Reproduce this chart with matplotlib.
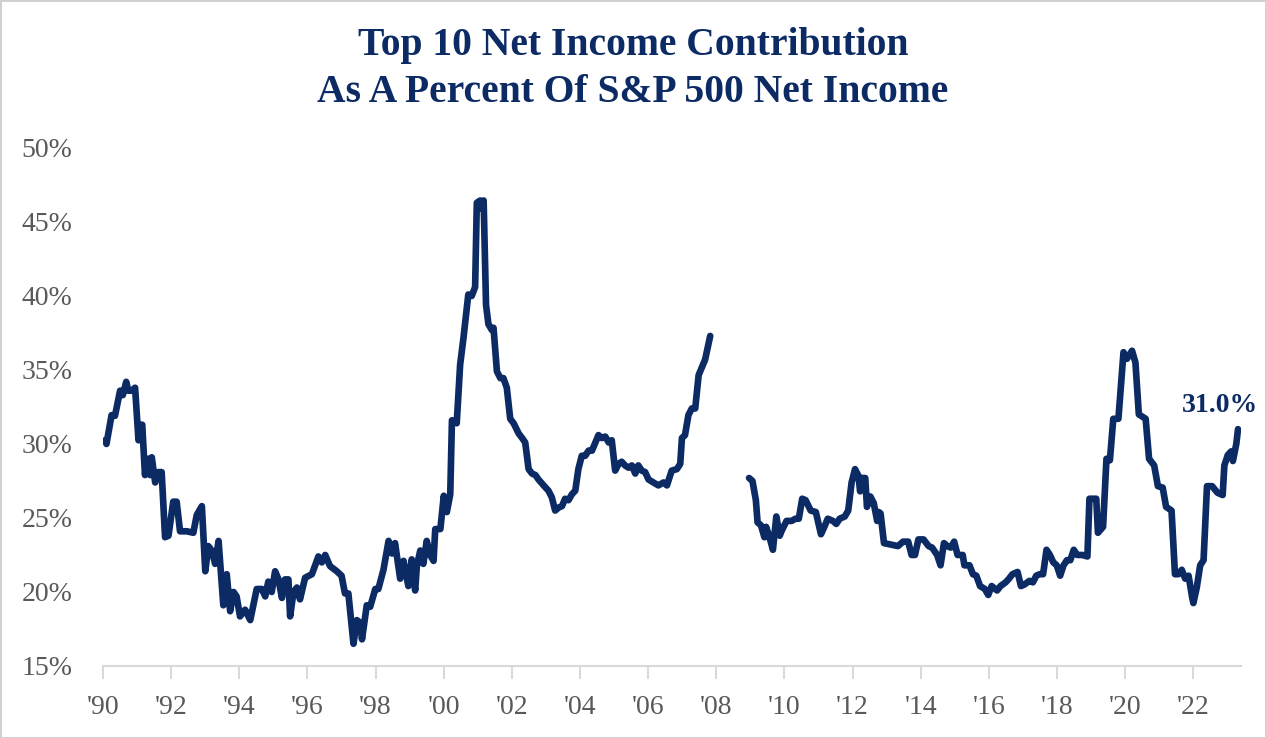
import numpy as np
import matplotlib
matplotlib.use("Agg")
import matplotlib.pyplot as plt

# Data, two segments with a gap around 2008
years_a = [1990.06, 1990.10, 1990.25, 1990.35, 1990.50, 1990.58, 1990.68, 1990.74, 1990.84, 1990.94,
           1991.04, 1991.09, 1991.15, 1991.23, 1991.33, 1991.38, 1991.43, 1991.53, 1991.62, 1991.72,
           1991.82, 1991.92, 1992.06, 1992.16, 1992.26, 1992.46, 1992.65, 1992.75, 1992.90, 1993.00,
           1993.09, 1993.19, 1993.29, 1993.39, 1993.53, 1993.63, 1993.73, 1993.83, 1993.92, 1994.02,
           1994.17, 1994.32, 1994.51, 1994.66, 1994.76, 1994.85, 1994.95, 1995.05, 1995.15, 1995.25,
           1995.34, 1995.44, 1995.49, 1995.59, 1995.69, 1995.78, 1995.93, 1996.13, 1996.32, 1996.42,
           1996.52, 1996.66, 1996.86, 1997.00, 1997.10, 1997.20, 1997.35, 1997.45, 1997.55, 1997.60,
           1997.74, 1997.84, 1997.99, 1998.08, 1998.23, 1998.38, 1998.48, 1998.57, 1998.72, 1998.82,
           1998.96, 1999.06, 1999.16, 1999.21, 1999.31, 1999.40, 1999.50, 1999.60, 1999.70, 1999.75,
           1999.90, 2000.00, 2000.09, 2000.19, 2000.24, 2000.38, 2000.48, 2000.58, 2000.72, 2000.82,
           2000.92, 2000.97, 2001.07, 2001.12, 2001.17, 2001.24, 2001.31, 2001.41, 2001.46, 2001.56,
           2001.66, 2001.75, 2001.85, 2001.95, 2002.05, 2002.20, 2002.30, 2002.39, 2002.49, 2002.59,
           2002.69, 2002.78, 2002.93, 2003.07, 2003.17, 2003.27, 2003.37, 2003.47, 2003.56, 2003.66,
           2003.76, 2003.86, 2003.95, 2004.05, 2004.15, 2004.25, 2004.35, 2004.45, 2004.54, 2004.64,
           2004.74, 2004.84, 2004.93, 2005.03, 2005.13, 2005.22, 2005.32, 2005.42, 2005.52, 2005.62,
           2005.71, 2005.81, 2005.91, 2006.01, 2006.15, 2006.30, 2006.45, 2006.55, 2006.69, 2006.84,
           2006.94, 2006.99, 2007.08, 2007.18, 2007.28, 2007.38, 2007.48, 2007.58, 2007.67, 2007.82]
values_a = [30.25, 30.0, 31.95, 31.9, 33.6, 33.3, 34.2, 33.6, 33.6, 33.8,
            30.25, 31.3, 31.3, 27.9, 29.0, 27.9, 29.1, 27.4, 28.1, 28.1,
            23.7, 23.8, 26.1, 26.1, 24.1, 24.1, 24.0, 25.2, 25.8, 21.4,
            23.1, 22.8, 21.9, 23.45, 19.1, 21.2, 18.7, 20.0, 19.7, 18.35,
            18.8, 18.1, 20.2, 20.2, 19.7, 20.7, 20.0, 21.4, 20.85, 19.6,
            20.85, 20.85, 18.35, 20.0, 20.3, 19.5, 20.96, 21.2, 22.4, 22.0,
            22.5, 21.75, 21.4, 21.1, 19.9, 19.9, 16.5, 18.1, 17.9, 16.8,
            19.1, 19.0, 20.2, 20.2, 21.5, 23.45, 22.6, 23.3, 20.9, 22.1,
            20.4, 22.2, 20.1, 21.75, 22.8, 21.9, 23.45, 22.5, 22.1, 24.25,
            24.25, 26.5, 25.4, 26.6, 31.6, 31.4, 35.35, 37.2, 40.1, 40.0,
            40.6, 46.3, 46.45, 45.9, 46.45, 39.4, 38.1, 37.7, 37.85, 34.9,
            34.45, 34.45, 33.8, 31.7, 31.4, 30.7, 30.4, 30.1, 28.3, 28.0,
            27.9, 27.6, 27.2, 26.85, 26.4, 25.5, 25.7, 25.8, 26.3, 26.2,
            26.6, 26.85, 28.3, 29.2, 29.2, 29.55, 29.55, 30.1, 30.6, 30.4,
            30.5, 30.1, 30.25, 28.2, 28.65, 28.8, 28.55, 28.4, 28.55, 28.0,
            28.55, 28.2, 28.1, 27.6, 27.4, 27.2, 27.4, 27.2, 28.2, 28.3,
            28.65, 30.4, 30.6, 31.95, 32.4, 32.4, 34.65, 35.2, 35.7, 37.3]

years_b = [2008.96, 2009.06, 2009.16, 2009.21, 2009.31, 2009.41, 2009.46, 2009.56, 2009.66, 2009.76,
           2009.86, 2009.91, 2010.06, 2010.21, 2010.32, 2010.42, 2010.52, 2010.62, 2010.77, 2010.92,
           2011.07, 2011.17, 2011.27, 2011.42, 2011.52, 2011.62, 2011.77, 2011.87, 2011.97, 2012.07,
           2012.17, 2012.22, 2012.27, 2012.37, 2012.42, 2012.52, 2012.62, 2012.72, 2012.77, 2012.82,
           2012.92, 2013.12, 2013.33, 2013.48, 2013.63, 2013.73, 2013.83, 2013.93, 2014.08, 2014.23,
           2014.33, 2014.48, 2014.58, 2014.68, 2014.78, 2014.88, 2014.98, 2015.08, 2015.23, 2015.28,
           2015.43, 2015.53, 2015.63, 2015.74, 2015.88, 2015.98, 2016.08, 2016.24, 2016.34, 2016.49,
           2016.59, 2016.69, 2016.84, 2016.94, 2017.04, 2017.19, 2017.29, 2017.39, 2017.49, 2017.59,
           2017.69, 2017.79, 2017.89, 2017.99, 2018.09, 2018.19, 2018.29, 2018.39, 2018.49, 2018.59,
           2018.74, 2018.89, 2018.95, 2019.15, 2019.20, 2019.35, 2019.45, 2019.55, 2019.65, 2019.80,
           2019.95, 2020.05, 2020.20, 2020.30, 2020.40, 2020.60, 2020.70, 2020.85, 2020.96, 2021.10,
           2021.20, 2021.36, 2021.46, 2021.56, 2021.66, 2021.76, 2021.86, 2021.96, 2022.00, 2022.10,
           2022.20, 2022.30, 2022.40, 2022.55, 2022.71, 2022.86, 2022.91, 2023.01, 2023.11, 2023.16,
           2023.26, 2023.31]
values_b = [27.7, 27.5, 26.2, 24.7, 24.5, 23.7, 24.4, 23.7, 22.85, 25.1,
            23.8, 24.1, 24.8, 24.8, 24.95, 24.95, 26.3, 26.2, 25.5, 25.4,
            23.9, 24.4, 24.95, 24.8, 24.6, 24.95, 25.1, 25.5, 27.4, 28.3,
            27.85, 26.8, 27.7, 27.7, 25.75, 26.45, 26.0, 24.8, 25.4, 25.3,
            23.3, 23.2, 23.1, 23.4, 23.4, 22.5, 22.5, 23.55, 23.55, 23.1,
            23.0, 22.5, 21.8, 23.3, 23.1, 23.0, 23.4, 22.5, 22.5, 21.8,
            21.8, 21.2, 21.1, 20.4, 20.2, 19.8, 20.4, 20.1, 20.4, 20.65,
            20.9, 21.2, 21.35, 20.4, 20.5, 20.75, 20.65, 21.1, 21.2, 21.2,
            22.85, 22.5, 22.0, 21.8, 21.1, 21.8, 22.15, 22.15, 22.85, 22.5,
            22.5, 22.4, 26.3, 26.3, 24.0, 24.4, 29.0, 28.9, 31.7, 31.7,
            36.2, 35.75, 36.3, 35.5, 32.0, 31.7, 29.0, 28.55, 27.15, 27.05,
            25.75, 25.5, 21.2, 21.2, 21.5, 20.9, 21.1, 19.7, 19.25, 20.3,
            21.8, 22.15, 27.15, 27.15, 26.7, 26.55, 28.55, 29.25, 29.5, 28.85,
            30.0, 31.0]

tick_years = list(range(1990, 2023, 2))
tick_labels = ["'" + str(y)[2:] for y in tick_years]
y_ticks = [15, 20, 25, 30, 35, 40, 45, 50]
last_label = "31.0%"

NAVY = "#0c2a63"
GRAY_TXT = "#595959"
AXIS_GRAY = "#d9d9d9"

fig = plt.figure(figsize=(12.66, 7.38), dpi=100)
fig.patch.set_facecolor("white")
fig.patch.set_edgecolor("#d0d0d0")
fig.patch.set_linewidth(2)

ax = fig.add_axes([0.0814, 0.0976, 0.8989, 0.7019])

ax.plot(years_a, values_a, color=NAVY, lw=4.8, solid_joinstyle="round", solid_capstyle="round")
ax.plot(years_b, values_b, color=NAVY, lw=4.8, solid_joinstyle="round", solid_capstyle="round")

ax.annotate(last_label, xy=(years_b[-1], values_b[-1]), xytext=(-13, 17), textcoords="offset points",
            ha="center", va="center", fontsize=20, fontweight="bold", color=NAVY,
            family="Liberation Serif")

ax.set_xlim(1990, 2023.4)
ax.set_ylim(15, 50)

for s in ["top", "right", "left"]:
    ax.spines[s].set_visible(False)
ax.spines["bottom"].set_color(AXIS_GRAY)
ax.spines["bottom"].set_linewidth(1.5)

ax.set_xticks(tick_years)
ax.set_xticklabels(tick_labels)
ax.set_yticks(y_ticks)
ax.set_yticklabels([f"{v}%" for v in y_ticks])

ax.tick_params(axis="x", direction="out", length=9, width=1.5, color=AXIS_GRAY,
               labelsize=20, labelcolor=GRAY_TXT, pad=12)
ax.tick_params(axis="y", length=0, labelsize=20, labelcolor=GRAY_TXT, pad=22)
for lbl in ax.get_xticklabels() + ax.get_yticklabels():
    lbl.set_family("Liberation Serif")

fig.text(0.5, 1 - 45 / 738, "Top 10 Net Income Contribution", ha="center", va="center",
         fontsize=28.5, fontweight="bold", color=NAVY, family="Liberation Serif")
fig.text(0.5, 1 - 93 / 738, "As A Percent Of S&P 500 Net Income", ha="center", va="center",
         fontsize=28.5, fontweight="bold", color=NAVY, family="Liberation Serif")

fig.savefig("out.png", dpi=100, facecolor=fig.get_facecolor(), edgecolor=fig.get_edgecolor())
